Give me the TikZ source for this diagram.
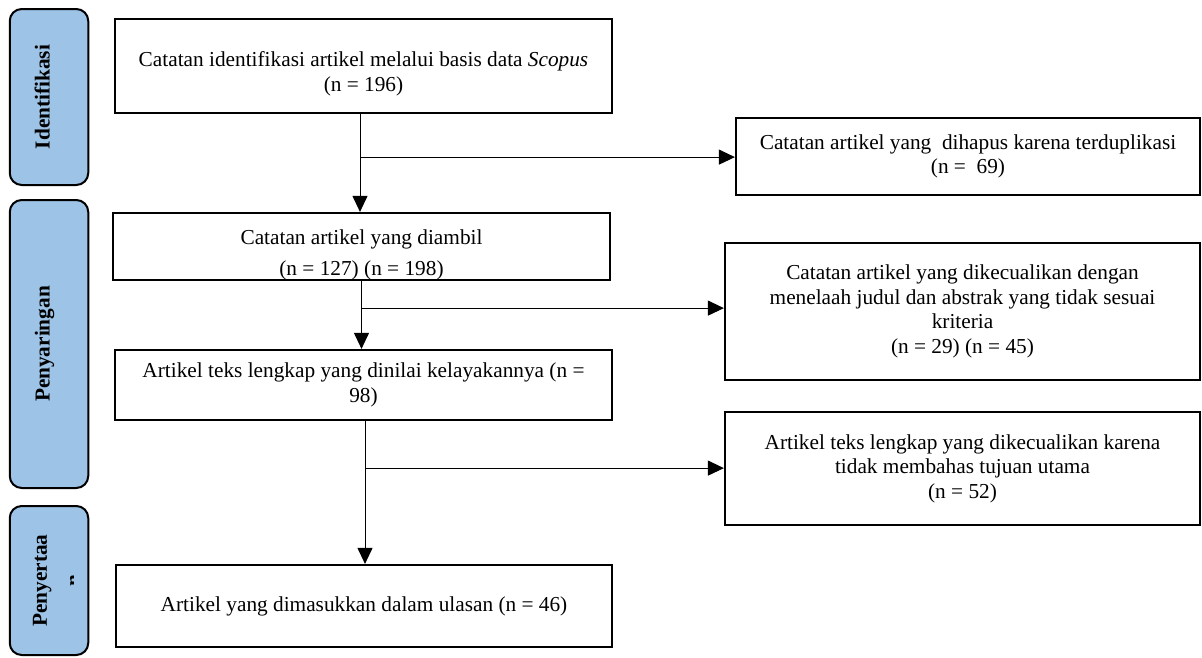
\documentclass[tikz,border=0pt]{standalone}
\usepackage{fontspec}
\setmainfont{Liberation Serif}[Ligatures=NoCommon]
\usepackage{tikz}
\usetikzlibrary{arrows.meta, positioning}
\definecolor{phaseblue}{HTML}{9DC3E6}

\begin{document}
\begin{tikzpicture}[
  x=1pt, y=-1pt,
  phase/.style={rectangle, draw, rounded corners=12pt, line width=2pt, fill=phaseblue, rotate=90, minimum height=78.5pt, inner sep=0pt, text depth=13.5pt, font=\fontsize{21.3}{24.5}\selectfont\bfseries},
  box/.style={rectangle, draw, line width=2.2pt, inner sep=2pt, align=center, font=\fontsize{21.3}{24.5}\selectfont},
  arr/.style={-{Triangle[length=16pt, width=15pt]}, line width=1pt},
]
  \useasboundingbox (0,0) rectangle (1202,657);

  % Phase labels
  \node[phase, minimum width=176pt] (idn) at (49,97) {Identifikasi};
  \node[phase, minimum width=288pt] (scrn) at (49,344) {Penyaringan};
  \node[phase, minimum width=149pt, text depth=18pt] (incl) at (49,580.5) {Penyertaa};
  \begin{scope}
    \clip (60,560) rectangle (73.5,600);
    \node[rotate=90, anchor=north, inner sep=0pt, font=\fontsize{21.3}{24.5}\selectfont\bfseries] (incn) at (70,581) {n};
  \end{scope}

  % Main flow
  \node[box, minimum width=497pt, minimum height=94pt] (rec1) at (363.5,66) {\rule{0pt}{30.3pt}Catatan identifikasi artikel melalui basis data \textit{Scopus}\\(n = 196)};
  \node[box, minimum width=497pt, minimum height=67pt, inner ysep=0pt, below=97.8pt of rec1, xshift=-2pt] (rec2) {\rule{0pt}{31.3pt}Catatan artikel yang diambil\\[6pt](n = 127) (n = 198)};
  \node[box, minimum width=497pt, minimum height=70pt, below=67.8pt of rec2, xshift=2pt] (rec3) {Artikel teks lengkap yang dinilai kelayakannya (n =\\98)};
  \node[box, minimum width=496pt, minimum height=82pt, below=142.8pt of rec3, xshift=0.5pt] (rec4) {Artikel yang dimasukkan dalam ulasan (n = 46)};

  % Excluded records
  \node[box, minimum width=464pt, minimum height=77pt] (dup) at (968,156.5) {Catatan artikel yang\ \ dihapus karena terduplikasi\\(n = \ 69)};
  \node[box, minimum width=475pt, minimum height=137pt, below=45.8pt of dup, xshift=-5.5pt] (ttl) {Catatan artikel yang dikecualikan dengan\\menelaah judul dan abstrak yang tidak sesuai\\kriteria\\(n = 29) (n = 45)};
  \node[box, minimum width=475pt, minimum height=113pt, below=29.8pt of ttl] (ful) {Artikel teks lengkap yang dikecualikan karena\\tidak membahas tujuan utama\\(n = 52)};

  % Arrows
  \path ([xshift=-3.5pt]rec1.south) coordinate (t1) ++(0,43) coordinate (b1);
  \draw[arr] (t1) -- (t1 |- rec2.north);
  \draw[arr] (b1) -- (b1 -| dup.west);

  \path (rec2.south) coordinate (t2) ++(0,27) coordinate (b2);
  \draw[arr] (t2) -- (t2 |- rec3.north);
  \draw[arr] (b2) -- (b2 -| ttl.west);

  \path ([xshift=1.5pt]rec3.south) coordinate (t3) ++(0,47) coordinate (b3);
  \draw[arr] (t3) -- (t3 |- rec4.north);
  \draw[arr] (b3) -- (b3 -| ful.west);

\end{tikzpicture}
\end{document}
